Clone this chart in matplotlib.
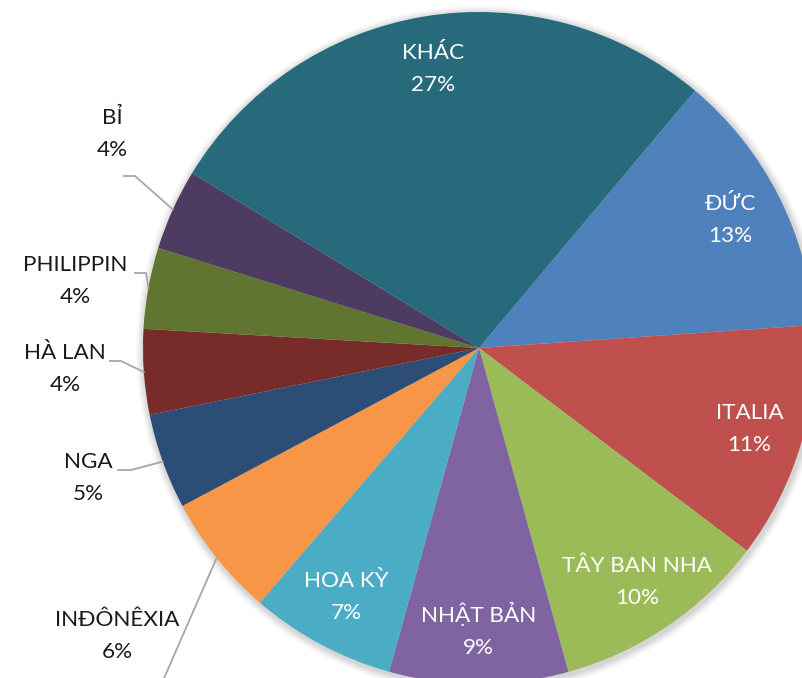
import numpy as np
import matplotlib
matplotlib.use("Agg")
import matplotlib.pyplot as plt
from matplotlib.patches import Circle

categories = ["ĐỨC", "ITALIA", "TÂY BAN NHA", "NHẬT BẢN", "HOA KỲ", "INĐÔNÊXIA",
              "NGA", "HÀ LAN", "PHILIPPIN", "BỈ", "KHÁC"]
values = [12.8, 11.4, 10.4, 8.6, 7.0, 5.9, 4.6, 4.1, 3.9, 3.9, 27.4]
colors = ["#4F81BD", "#C0504D", "#9BBB59", "#8064A2", "#4BACC6", "#F79646",
          "#2C4D75", "#772C2A", "#5F7530", "#4D3B62", "#276A7C"]

# layout: outside labels (pixel anchors of text and leader elbows)
outside = {
    "BỈ": dict(text=(112, 134), elbow=[(124, 176), (135, 176)]),
    "PHILIPPIN": dict(text=(75, 281), elbow=[(135, 273), (146, 273)]),
    "HÀ LAN": dict(text=(65, 369), elbow=[(110, 361), (121, 361)]),
    "NGA": dict(text=(88, 478), elbow=[(118, 470), (131, 470)]),
    "INĐÔNÊXIA": dict(text=(117, 636), elbow=[(158, 692)]),
}

CX, CY, R = 479, 348, 336
W, H = 803, 678


def px(x, y):
    return ((x - CX) / R, (CY - y) / R)


plt.rcParams['font.family'] = ['Lato', 'DejaVu Sans']
fig = plt.figure(figsize=(W / 100, H / 100), dpi=100)
ax = fig.add_axes([0, 0, 1, 1])

# soft shadow
for i, a in enumerate([0.05, 0.05, 0.04, 0.03]):
    ax.add_patch(Circle((0.004, -0.006), 1.0 + 0.006 * (i + 1), color='black',
                        alpha=a, lw=0, zorder=0))

wedges, _ = ax.pie(values, colors=colors, startangle=50, counterclock=False,
                   radius=1.0, center=(0, 0), frame=True,
                   wedgeprops=dict(linewidth=0))
ax.set_xlim(-CX / R, (W - CX) / R)
ax.set_ylim((CY - H) / R, CY / R)
ax.set_aspect('equal')
ax.axis('off')

total = sum(values)
fs = 16.2
ls = 1.75
for w, name, v in zip(wedges, categories, values):
    mid = np.deg2rad((w.theta1 + w.theta2) / 2)
    pct = f"{round(v / total * 100):d}%"
    if name in outside:
        spec = outside[name]
        tx, ty = px(*spec["text"])
        ax.text(tx, ty, f"{name}\n{pct}", ha='center', va='center', fontsize=fs,
                color='#1a1a1a', linespacing=ls, zorder=5)
        ex, ey = np.cos(mid), np.sin(mid)
        pts = [px(*p) for p in spec["elbow"]] + [(ex, ey)]
        xs, ys = zip(*pts)
        ax.plot(xs, ys, color='#a6a6a6', lw=1.3, zorder=4, clip_on=False)
    else:
        r = 0.84
        ax.text(r * np.cos(mid), r * np.sin(mid), f"{name}\n{pct}", ha='center',
                va='center', fontsize=fs, color='white', linespacing=ls, zorder=5)

fig.savefig("out.png", dpi=100)
